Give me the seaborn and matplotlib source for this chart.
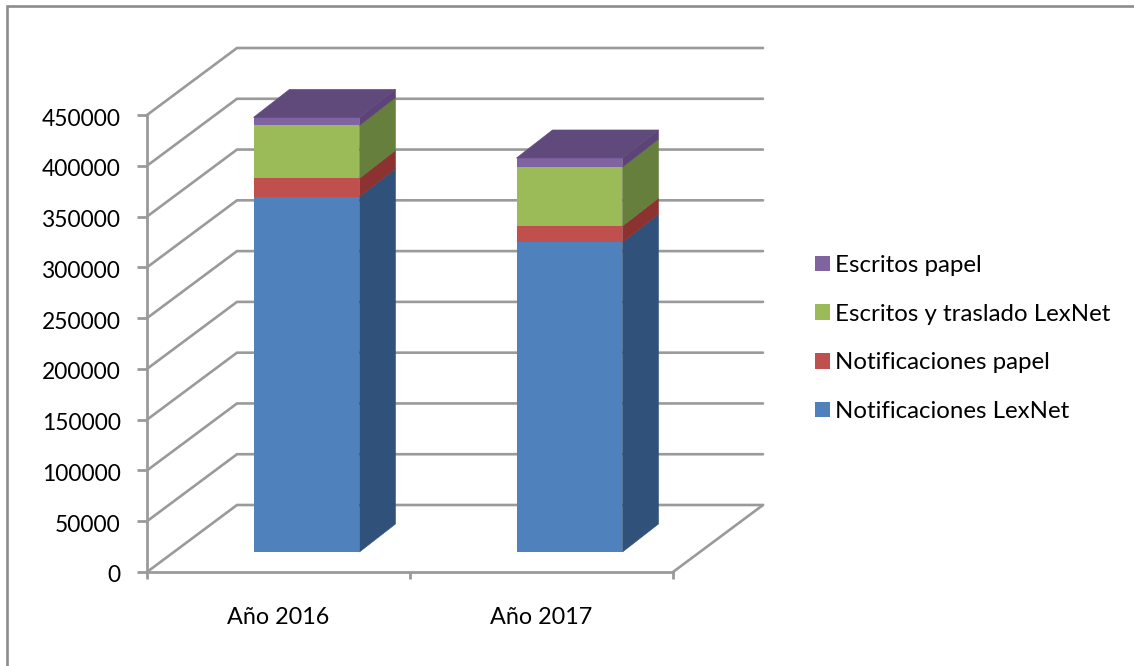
import matplotlib
matplotlib.use("Agg")
import matplotlib.pyplot as plt
import matplotlib.transforms as mtrans
import pandas as pd
import seaborn as sns

# valores
years = ["Año 2016", "Año 2017"]
series = ["Notificaciones LexNet", "Notificaciones papel",
          "Escritos y traslado LexNet", "Escritos papel"]
notif_lexnet = [350000, 305000]
notif_papel = [18000, 16000]
escritos_lexnet = [52000, 58000]
escritos_papel = [8000, 9000]
y_ticks = list(range(0, 450001, 50000))

front_colors = ["#4F81BD", "#C0504D", "#9BBB59", "#8064A2"]
side_colors = ["#30527A", "#8C3331", "#667F3C", "#5C4478"]
top_color = "#5F4A7B"
grid_color = "#9A9A9A"

W, H = 1134, 666
L, R, T, B = 147, 673, 115, 572   # plano frontal en pixeles
BAR_DX, BAR_DY = 28, 20           # desplazamiento de las barras dentro de la caja

sns.set_style("white")
plt.rcParams["font.family"] = ["Lato", "DejaVu Sans"]

fig = plt.figure(figsize=(W / 100, H / 100), dpi=100)
fig.patch.set_facecolor("white")


def px_axes(left, right, top, bottom):
    return fig.add_axes([left / W, 1 - bottom / H, (right - left) / W, (bottom - top) / H])


# ── ejes y paredes 3D ─────────────────────────────
ax = px_axes(L, R, T, B)
ax.set_xlim(-0.5, 1.5)
ax.set_ylim(0, 450000)
ax.patch.set_visible(False)

x_unit = (R - L) / 2
y_unit = (B - T) / 450000
depth_x = 90 / x_unit
depth_y = 67 / y_unit

for v in y_ticks:
    ax.plot([-0.5, -0.5 + depth_x, 1.5 + depth_x], [v, v + depth_y, v + depth_y],
            color=grid_color, lw=1.9, clip_on=False, solid_joinstyle="miter")
ax.plot([1.5, 1.5 + depth_x], [0, depth_y], color=grid_color, lw=1.9, clip_on=False)

sns.despine(ax=ax)
for side in ["left", "bottom"]:
    ax.spines[side].set_color(grid_color)
    ax.spines[side].set_linewidth(2)
ax.set_yticks(y_ticks)
ax.set_xticks([0, 1], years)
ax.set_xticks([-0.5, 0.5, 1.5], minor=True)
ax.tick_params(axis="y", length=7, width=2, color=grid_color, pad=12, labelsize=16.4,
               left=True, labelcolor="black")
ax.tick_params(axis="x", which="major", length=0, pad=25, labelsize=16.8, labelcolor="black")
ax.tick_params(axis="x", which="minor", length=5, width=2, color=grid_color, bottom=True)

# las etiquetas del eje y van un poco mas abajo que la marca
shift = mtrans.ScaledTranslation(0, -2 / 100, fig.dpi_scale_trans)
for lbl in ax.get_yticklabels():
    lbl.set_transform(lbl.get_transform() + shift)

# ── barras apiladas ───────────────────────────────
ax_bars = px_axes(L + BAR_DX, R + BAR_DX, T - BAR_DY, B - BAR_DY)
df = pd.DataFrame({"year": years,
                   series[0]: notif_lexnet,
                   series[1]: notif_papel,
                   series[2]: escritos_lexnet,
                   series[3]: escritos_papel})

dx, dy = 36 / x_unit, 28 / y_unit
bottom = [0, 0]
handles = []
new = []
for name, front, dark in zip(series, front_colors, side_colors):
    n_before = len(ax_bars.patches)
    sns.barplot(data=df, x="year", y=name, bottom=bottom, color=front, saturation=1,
                width=0.403, linewidth=0, ax=ax_bars)
    new = list(ax_bars.patches[n_before:])
    handles.append(new[0])
    for p in new:
        x1 = p.get_x() + p.get_width()
        y0, y1 = p.get_y(), p.get_y() + p.get_height()
        ax_bars.fill([x1, x1 + dx, x1 + dx, x1], [y0, y0 + dy, y1 + dy, y1],
                     color=dark, lw=0.4, clip_on=False)
    bottom = [b + v for b, v in zip(bottom, df[name])]

# tapa superior, sobre las barras del ultimo tramo
for p in new:
    x0, x1 = p.get_x(), p.get_x() + p.get_width()
    y1 = p.get_y() + p.get_height()
    ax_bars.fill([x0, x1, x1 + dx, x0 + dx], [y1, y1, y1 + dy, y1 + dy],
                 color=top_color, lw=0.4, clip_on=False)

ax_bars.set_xlim(-0.5, 1.5)
ax_bars.set_ylim(0, 450000)
ax_bars.axis("off")

# ── leyenda ───────────────────────────────────────
fig.legend(handles[::-1], series[::-1], loc="center left", bbox_to_anchor=(793 / W, 1 - 338.5 / H),
           frameon=False, fontsize=17.3, handlelength=0.625, handleheight=0.625,
           handletextpad=0.22, labelspacing=1.155, labelcolor="black")

# marco exterior
fig.add_artist(plt.Line2D([6.5 / W, 6.5 / W, 1], [0, 1 - 6 / H, 1 - 6 / H],
                          color="#8C8C8C", lw=1.9, solid_joinstyle="miter"))

fig.savefig("out.png", dpi=100)
